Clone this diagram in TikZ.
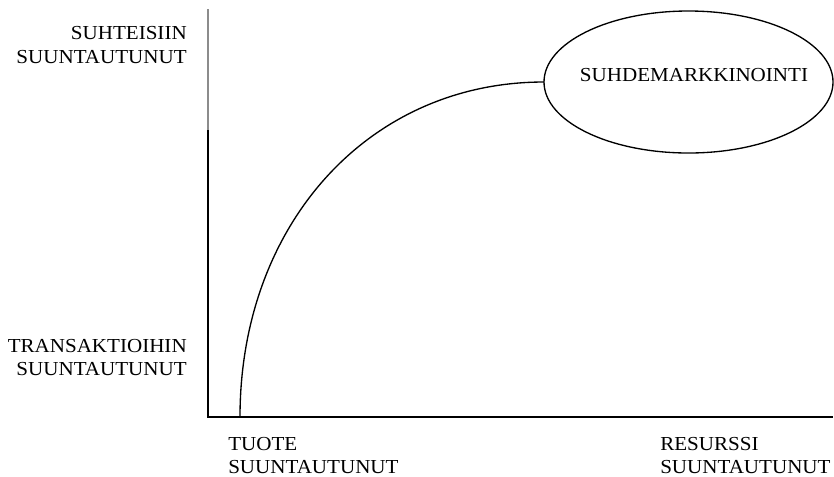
\documentclass[tikz,border=0pt]{standalone}
\usepackage{fontspec}
\setmainfont{Liberation Serif}[FakeStretch=1.06]
\usetikzlibrary{shapes.geometric}
\begin{document}
\begin{tikzpicture}[x=0.75pt,y=-0.75pt,
  lbl/.style={inner sep=0pt,font=\fontsize{14.9pt}{17pt}\selectfont},
  axis/.style={line width=1.2pt},
  thin line/.style={line width=1.0pt}]
\useasboundingbox (0,0) rectangle (834,476);
% axes
\coordinate (ytop) at (208,9);
\coordinate (ymid) at (208,130);
\coordinate (O) at (208,417);
\coordinate (xend) at (833,417);
\draw[axis,color=black!45] (ytop) -- (ymid);
\draw[axis] (ymid) -- (O) -- (xend);
% ellipse
\node[draw,ellipse,thin line,minimum width=216.75pt,minimum height=106.5pt,inner sep=0pt,outer sep=0pt] (sm) at (688.5,82) {};
\node[lbl,anchor=base] (smtext) at (694,81) {SUHDEMARKKINOINTI};
% curve
\coordinate (cstart) at (240,417);
\draw[thin line] (cstart) .. controls (240,225) and (368,82) .. (sm.west);
% labels
\node[lbl,anchor=base east] (y1a) at (187,39) {SUHTEISIIN};
\node[lbl,anchor=base east] (y1b) at (187,63) {SUUNTAUTUNUT};
\node[lbl,anchor=base east] (y2a) at (187,352) {TRANSAKTIOIHIN};
\node[lbl,anchor=base east] (y2b) at (187,375) {SUUNTAUTUNUT};
\node[lbl,anchor=base west] (x1a) at (228,450) {TUOTE};
\node[lbl,anchor=base west] (x1b) at (228,473) {SUUNTAUTUNUT};
\node[lbl,anchor=base west] (x2a) at (660,450) {RESURSSI};
\node[lbl,anchor=base west] (x2b) at (660,473) {SUUNTAUTUNUT};
\end{tikzpicture}
\end{document}
